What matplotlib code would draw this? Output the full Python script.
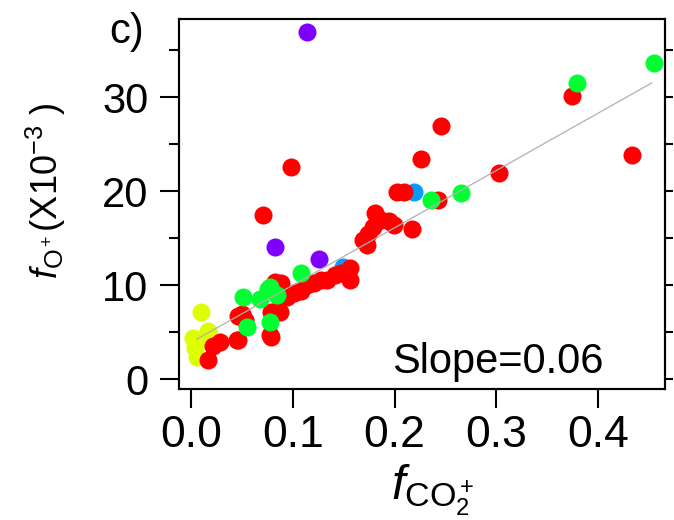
import numpy as np
import matplotlib
matplotlib.use('Agg')
import matplotlib.pyplot as plt

plt.rcParams['font.family'] = ['Liberation Sans', 'DejaVu Sans']
plt.rcParams['mathtext.fontset'] = 'custom'
plt.rcParams['mathtext.rm'] = 'Liberation Sans'
plt.rcParams['mathtext.it'] = 'Liberation Sans:italic'

# f_CO2+ (x) vs f_O+ (y, x10^-3)
yellow_x = [0.010, 0.017, 0.002, 0.019, 0.006, 0.004]
yellow_y = [7.2, 5.1, 4.4, 4.2, 2.4, 3.3]

blue_x = [0.219, 0.149]
blue_y = [19.95, 12.0]

green_x = [0.236, 0.265, 0.3795, 0.4548, 0.108, 0.078, 0.051, 0.068, 0.084, 0.076, 0.055, 0.078]
green_y = [19.07, 19.8, 31.55, 33.6, 11.3, 9.85, 8.8, 8.5, 9.0, 9.6, 5.6, 6.1]

red_x = [0.098, 0.2456, 0.226, 0.071, 0.202, 0.209, 0.243, 0.303, 0.217, 0.374, 0.433,
         0.0825, 0.088, 0.094, 0.101, 0.108, 0.114, 0.121, 0.128, 0.134, 0.141, 0.147,
         0.156, 0.156, 0.181, 0.187, 0.194, 0.199, 0.179, 0.174, 0.169, 0.1725,
         0.022, 0.017, 0.0285, 0.046, 0.053, 0.050, 0.079, 0.087, 0.078, 0.079, 0.045,
         0.046, 0.085]
red_y = [22.55, 26.98, 23.4, 17.5, 19.95, 19.95, 19.07, 21.9, 15.96, 30.17, 23.86,
         10.3, 10.2, 8.8, 9.2, 9.4, 10.0, 10.2, 10.6, 10.6, 11.1, 11.3,
         11.8, 10.6, 17.66, 16.9, 16.8, 16.4, 16.2, 15.5, 14.8, 14.3,
         3.5, 2.05, 4.0, 4.2, 6.3, 7.0, 7.2, 7.2, 4.7, 4.5, 4.2,
         6.7, 7.4]

purple_x = [0.1136, 0.0825, 0.126]
purple_y = [37.0, 14.04, 12.77]

# linear fit shown in the panel
fit_x = [0.0056, 0.4526]
fit_slope = 61.0
fit_intercept = 3.92

fig = plt.figure(figsize=(6.74, 5.20), dpi=100)
ax = fig.add_axes([179 / 674, 1 - 389 / 520, (665 - 179) / 674, (389 - 19) / 520])

ax.scatter(yellow_x, yellow_y, s=169, color='#DDFF00', linewidths=0, zorder=2)
ax.scatter(blue_x, blue_y, s=169, color='#0A99FF', linewidths=0, zorder=2)
ax.scatter(red_x, red_y, s=169, color='#FF0000', linewidths=0, zorder=3)
ax.scatter(green_x, green_y, s=169, color='#00FF33', linewidths=0, zorder=3)
ax.scatter(purple_x, purple_y, s=169, color='#8000FF', linewidths=0, zorder=3)

fit_y = [fit_intercept + fit_slope * v for v in fit_x]
ax.plot(fit_x, fit_y, color='#B0B0B0', linewidth=0.9, zorder=4)

ax.set_xlim(-0.0118, 0.4656)
ax.set_ylim(-1.03, 38.33)

for sp in ax.spines.values():
    sp.set_linewidth(1.5)

ax.set_xticks([0.0, 0.1, 0.2, 0.3, 0.4])
ax.set_xticklabels(['0.0', '0.1', '0.2', '0.3', '0.4'])
ax.set_yticks([0, 10, 20, 30])
ax.set_yticks([5, 15, 25, 35], minor=True)
ax.tick_params(axis='x', which='major', direction='out', length=13.5, width=1.5,
               labelsize=32, pad=5)
ax.tick_params(axis='y', which='major', direction='out', length=14, width=1.5,
               labelsize=30, pad=8)
ax.tick_params(axis='y', which='minor', direction='out', length=7, width=1.5)

# right-hand ticks are short and unlabelled
ax2 = ax.twinx()
ax2.set_ylim(ax.get_ylim())
ax2.set_yticks(np.arange(0, 40, 5))
ax2.tick_params(axis='y', direction='out', length=6, width=1.5, labelright=False)
for sp in ax2.spines.values():
    sp.set_linewidth(1.5)

ax.text(0.1975, 1.8, 'Slope=0.06', fontsize=30, va='center', ha='left')

fig.text(127 / 674, 1 - 32 / 520, 'c)', fontsize=30, ha='center', va='center')
fig.text(46 / 674, 1 - 191 / 520, r'$f_{\mathrm{O^+}}$(X10$^{-3}$ )', fontsize=26,
         rotation=90, ha='center', va='center')
fig.text(433 / 674, 1 - 490 / 520, r'$f_{\mathrm{CO_2^+}}$', fontsize=35,
         ha='center', va='center')

fig.savefig('out.png', dpi=100)
